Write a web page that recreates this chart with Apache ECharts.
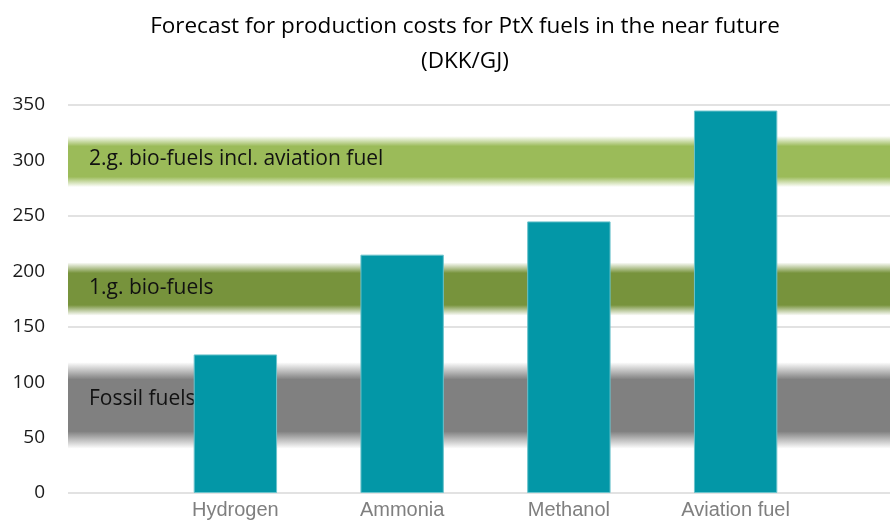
<!DOCTYPE html>
<html>
<head>
<meta charset="utf-8">
<script src="https://cdn.jsdelivr.net/npm/echarts@6/dist/echarts.min.js"></script>
<style>
  html, body { margin: 0; padding: 0; background: #fff; }
  #chart { width: 890px; height: 520px; }
</style>
</head>
<body>
<div id="chart"></div>
<script>
var categories = ['Hydrogen', 'Ammonia', 'Methanol', 'Aviation fuel'];
var costs = [125, 215, 245, 345];
var yTicks = [0, 50, 100, 150, 200, 250, 300, 350];

// reference bands (DKK/GJ), low / high edge incl. the soft fade
var bandNames = ['Fossil fuels', '1.g. bio-fuels', '2.g. bio-fuels incl. aviation fuel'];
var bandLow = [40, 160, 276];
var bandHigh = [118, 208, 322];
var bandColors = ['#808080', '#77933c', '#9bbb59'];

var myChart = echarts.init(document.getElementById('chart'));

function fade(c) {
    return {
        type: 'linear', x: 0, y: 0, x2: 0, y2: 1,
        colorStops: [
            { offset: 0, color: '#ffffff' },
            { offset: 0.2, color: c },
            { offset: 0.8, color: c },
            { offset: 1, color: '#ffffff' }
        ]
    };
}

// label nudges so the text sits where the original has it
var labelShift = [-6, -1, -3];

var bandAreas = bandNames.map(function (name, i) {
    return [
        {
            name: name, xAxis: 0, yAxis: bandLow[i],
            itemStyle: { color: fade(bandColors[i]) },
            label: { offset: [0, labelShift[i]] }
        },
        { xAxis: 1, yAxis: bandHigh[i] }
    ];
});

var option = {
    backgroundColor: '#fff',
    animation: false,
    title: {
        text: 'Forecast for production costs for PtX fuels in the near future\n(DKK/GJ)',
        left: 460,
        top: 4,
        textAlign: 'center',
        textStyle: {
            fontFamily: 'Open Sans',
            fontWeight: 'normal',
            fontSize: 22.5,
            lineHeight: 35,
            color: '#000'
        }
    },
    grid: [
        { left: 68, right: 0, top: 105, bottom: 27, outerBoundsMode: 'none' },
        { left: 152, right: 71, top: 105, bottom: 27, outerBoundsMode: 'none' }
    ],
    xAxis: [
        {
            gridIndex: 0, type: 'value', min: 0, max: 1, show: false
        },
        {
            gridIndex: 1,
            type: 'category',
            data: categories,
            axisLine: { show: false },
            axisTick: { show: false },
            axisLabel: {
                margin: 7,
                fontFamily: 'Liberation Sans',
                fontSize: 20,
                color: '#7f7f7f'
            }
        }
    ],
    yAxis: [
        {
            gridIndex: 0,
            type: 'value',
            min: yTicks[0],
            max: yTicks[yTicks.length - 1],
            interval: 50,
            axisLine: { show: false },
            axisTick: { show: false },
            axisLabel: {
                margin: 23,
                fontFamily: 'Open Sans',
                fontSize: 19,
                color: '#1a1a1a'
            },
            splitLine: { lineStyle: { color: '#d9d9d9', width: 1.5 } }
        },
        {
            gridIndex: 1,
            type: 'value',
            min: yTicks[0],
            max: yTicks[yTicks.length - 1],
            show: false,
            splitLine: { show: false }
        }
    ],
    series: [
        {
            name: 'bands',
            type: 'line',
            xAxisIndex: 0,
            yAxisIndex: 0,
            data: [[0, 0]],
            showSymbol: false,
            symbol: 'none',
            lineStyle: { opacity: 0 },
            silent: true,
            z: 1,
            markArea: {
                silent: true,
                label: {
                    show: true,
                    position: 'insideLeft',
                    distance: 21,
                    formatter: '{b}',
                    fontFamily: 'Open Sans',
                    fontSize: 21,
                    color: '#111'
                },
                data: bandAreas
            }
        },
        {
            name: 'Production cost',
            type: 'bar',
            xAxisIndex: 1,
            yAxisIndex: 1,
            barWidth: '50%',
            z: 5,
            itemStyle: {
                color: '#0397a7',
                borderColor: '#6cc3cc',
                borderWidth: 1
            },
            data: costs
        }
    ]
};

myChart.setOption(option);
</script>
</body>
</html>
